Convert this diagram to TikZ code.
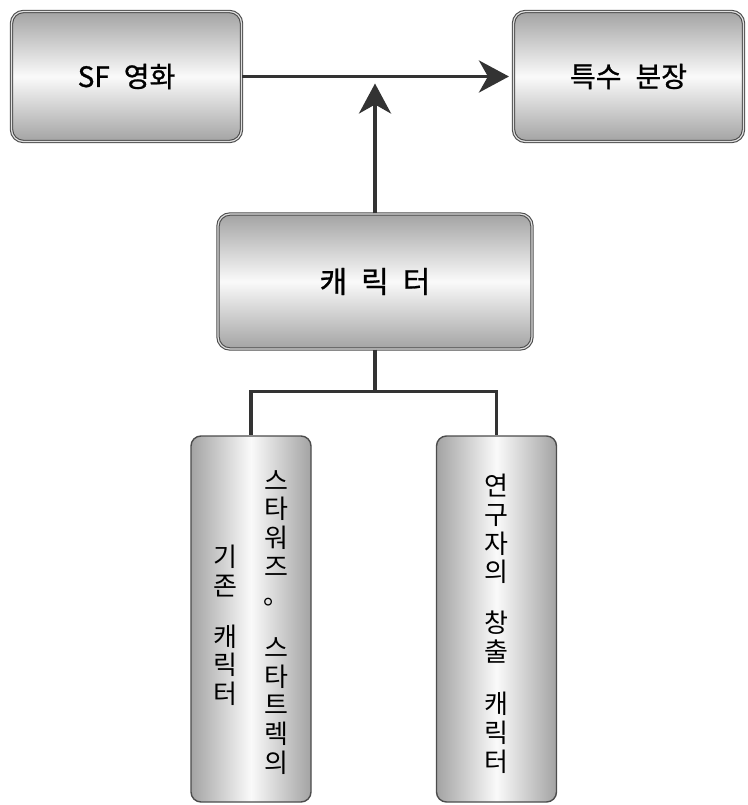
\documentclass[tikz,border=0pt]{standalone}
\usepackage{fontspec}
\newfontfamily\kr{Noto Sans CJK KR}
\newfontfamily\krheavy[FakeBold=0.9]{Noto Sans CJK KR}
\usetikzlibrary{arrows.meta}
\tikzset{
  topbox/.style={rounded corners=12pt, draw=black!70, double=gray!25,
    double distance=1.2pt, line width=1.1pt,
    top color=gray!72, bottom color=gray!72, middle color=white!96!gray,
    minimum width=230pt, minimum height=130pt, inner sep=0pt,
    font=\krheavy\fontsize{28}{32}\selectfont},
  sidebox/.style={rounded corners=10pt, draw=black!70, line width=1.4pt,
    left color=gray!72, right color=gray!72, middle color=white!96!gray,
    minimum width=120pt, minimum height=366pt, inner sep=0pt},
  vtext/.style={anchor=north, align=center, inner sep=0pt,
    font=\kr\fontsize{26}{28.7}\selectfont},
  link/.style={line width=3.8pt, draw=black!80},
  arrow/.style={link, -{Stealth[length=30pt, width=32pt, inset=9pt]}}
}
\begin{document}
\begin{tikzpicture}[x=1pt, y=-1pt]
    \useasboundingbox (0,0) rectangle (747,805);

    % Top row
    \node[topbox] (movie) at (126.5,76.5) {SF\hspace{14pt}영화};
    \node[topbox] (makeup) at (628.5,76.5) {특수\hspace{14pt}분장};

    % Character box
    \node[topbox, minimum width=314pt, minimum height=135pt,
          font=\krheavy\fontsize{30}{34}\selectfont] (chara) at (375,281.5)
          {캐\hspace{14pt}릭\hspace{14pt}터};

    % Lower boxes
    \node[sidebox] (exist) at (251,619) {};
    \node[sidebox] (new) at (496.5,619) {};

    % Vertical texts
    \node[vtext] (exist-r) at (276,470) {스\\타\\워\\즈\\。\\[24pt]스\\타\\트\\렉\\의};
    \node[vtext] (exist-l) at (225,545) {기\\존\\[22pt]캐\\릭\\터};
    \node[vtext] (new-t) at (496,474) {연\\구\\자\\의\\[22pt]창\\출\\[24pt]캐\\릭\\터};

    % Arrows
    \draw[arrow, shorten >=4pt] (movie.east) -- (makeup.west);
    \coordinate (join) at (chara.north |- movie.east);
    \draw[arrow, shorten >=7pt] (chara.north) -- (join);

    % Tree to lower boxes
    \coordinate (fork) at ([yshift=-42pt]chara.south);
    \draw[link] (chara.south) -- (fork);
    \draw[link] (fork) -| (exist.north);
    \draw[link] (fork) -| (new.north);
\end{tikzpicture}
\end{document}
